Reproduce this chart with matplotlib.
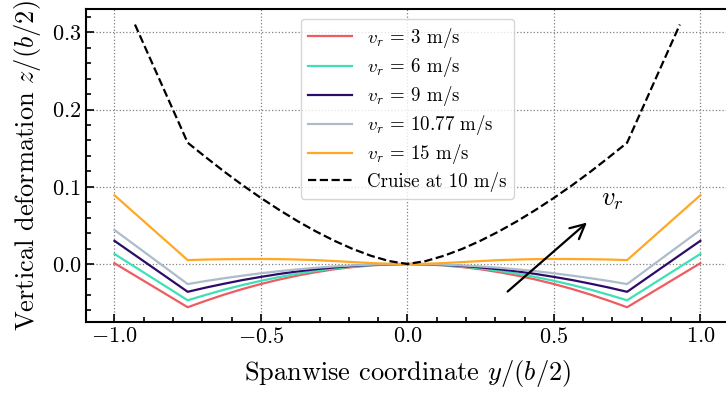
import numpy as np
import matplotlib
matplotlib.use("Agg")
import matplotlib.pyplot as plt
from matplotlib.ticker import MultipleLocator

plt.rcParams["font.family"] = "serif"
plt.rcParams["font.serif"] = ["cmr10", "DejaVu Serif"]
plt.rcParams["mathtext.fontset"] = "cm"
plt.rcParams["axes.formatter.use_mathtext"] = True
plt.rcParams["axes.unicode_minus"] = True

# ==========================================================
# DATA
# ==========================================================

span = [-1.0, -0.75, -0.6875, -0.625, -0.5625, -0.5, -0.4375, -0.375,
        -0.3125, -0.25, -0.1875, -0.125, -0.0625, 0.0,
        0.0625, 0.125, 0.1875, 0.25, 0.3125, 0.375, 0.4375, 0.5,
        0.5625, 0.625, 0.6875, 0.75, 1.0]

z_3 = [0.001, -0.056, -0.0475, -0.0396, -0.0324, -0.0259, -0.0201, -0.0150,
       -0.0106, -0.0069, -0.0040, -0.0019, -0.0005, 0.0,
       -0.0005, -0.0019, -0.0040, -0.0069, -0.0106, -0.0150, -0.0201, -0.0259,
       -0.0324, -0.0396, -0.0475, -0.056, 0.001]
z_6 = [0.013, -0.047, -0.0399, -0.0332, -0.0272, -0.0218, -0.0169, -0.0126,
       -0.0089, -0.0058, -0.0034, -0.0016, -0.0004, 0.0,
       -0.0004, -0.0016, -0.0034, -0.0058, -0.0089, -0.0126, -0.0169, -0.0218,
       -0.0272, -0.0332, -0.0399, -0.047, 0.013]
z_9 = [0.030, -0.036, -0.0305, -0.0255, -0.0208, -0.0167, -0.0129, -0.0096,
       -0.0068, -0.0045, -0.0026, -0.0012, -0.0003, 0.0,
       -0.0003, -0.0012, -0.0026, -0.0045, -0.0068, -0.0096, -0.0129, -0.0167,
       -0.0208, -0.0255, -0.0305, -0.036, 0.030]
z_1077 = [0.044, -0.026, -0.0220, -0.0184, -0.0151, -0.0120, -0.0093, -0.0070,
          -0.0049, -0.0032, -0.0019, -0.0009, -0.0002, 0.0,
          -0.0002, -0.0009, -0.0019, -0.0032, -0.0049, -0.0070, -0.0093, -0.0120,
          -0.0151, -0.0184, -0.0220, -0.026, 0.044]
z_15 = [0.089, 0.005, 0.0058, 0.0062, 0.0064, 0.0065, 0.0063, 0.0058,
        0.0050, 0.0038, 0.0025, 0.0012, 0.0003, 0.0,
        0.0003, 0.0012, 0.0025, 0.0038, 0.0050, 0.0058, 0.0063, 0.0065,
        0.0064, 0.0062, 0.0058, 0.005, 0.089]

span_cruise = [-0.93, -0.75, -0.6875, -0.625, -0.5625, -0.5, -0.4375, -0.375,
               -0.3125, -0.25, -0.1875, -0.125, -0.0625, 0.0,
               0.0625, 0.125, 0.1875, 0.25, 0.3125, 0.375, 0.4375, 0.5,
               0.5625, 0.625, 0.6875, 0.75, 0.93]
z_cruise = [0.31, 0.157, 0.138, 0.1195, 0.102, 0.0855, 0.070, 0.0555,
            0.0422, 0.0302, 0.0196, 0.0107, 0.0038, 0.0,
            0.0038, 0.0107, 0.0196, 0.0302, 0.0422, 0.0555, 0.070, 0.0855,
            0.102, 0.1195, 0.138, 0.157, 0.31]

labels = [r"$v_r$ = 3 m/s", r"$v_r$ = 6 m/s", r"$v_r$ = 9 m/s",
          r"$v_r$ = 10.77 m/s", r"$v_r$ = 15 m/s"]
colors = ["#EF5B60", "#40E0B5", "#2D0B6B", "#AEBBCB", "#FFA826"]

# ==========================================================
# PLOT
# ==========================================================

fig = plt.figure(figsize=(7.26, 3.95), dpi=100)
ax = fig.add_axes([0.1185, 0.185, 0.8845, 0.792])

for z, lab, c in zip([z_3, z_6, z_9, z_1077, z_15], labels, colors):
    ax.plot(span, z, color=c, lw=1.6, label=lab)

ax.plot(span_cruise, z_cruise, "k--", lw=1.6, label="Cruise at 10 m/s")

ax.annotate("", xy=(0.62, 0.056), xytext=(0.335, -0.038),
            arrowprops=dict(arrowstyle="->", color="k", lw=1.6,
                            mutation_scale=26))
ax.text(0.70, 0.083, r"$v_r$", fontsize=19, ha="center", va="center")

ax.set_xlim(-1.097, 1.095)
ax.set_ylim(-0.075, 0.33)
ax.xaxis.set_major_locator(MultipleLocator(0.5))
ax.xaxis.set_minor_locator(MultipleLocator(0.1))
ax.yaxis.set_major_locator(MultipleLocator(0.1))
ax.yaxis.set_minor_locator(MultipleLocator(0.02))
ax.tick_params(which="both", direction="in", top=False, right=False,
               labelsize=16, width=1.2)
ax.tick_params(which="major", length=6)
ax.tick_params(which="minor", length=3.5)
for s in ax.spines.values():
    s.set_linewidth(1.5)

ax.grid(True, which="major", ls=":", color="gray", lw=0.9)

ax.set_xlabel(r"Spanwise coordinate $y/(b/2)$", fontsize=19, labelpad=8)
ax.set_ylabel(r"Vertical deformation $z/(b/2)$", fontsize=19, labelpad=6)

ax.legend(loc="upper center", bbox_to_anchor=(0.5, 1.0), fontsize=13.6,
          handlelength=2.3, labelspacing=0.27, framealpha=0.8,
          edgecolor="#cccccc", fancybox=True)

fig.savefig("out.png", dpi=100)
